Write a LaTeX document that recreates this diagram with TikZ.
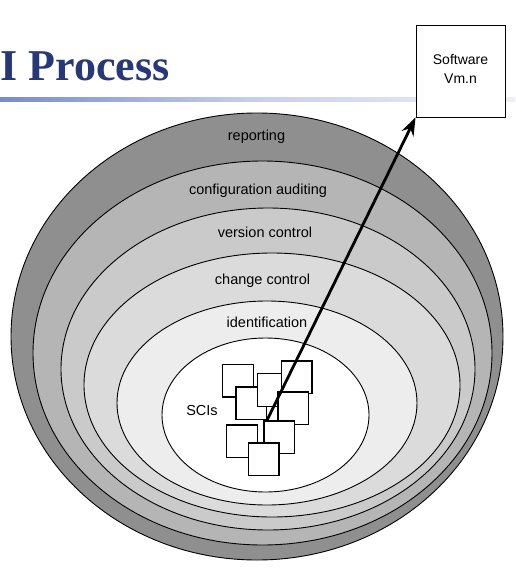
\documentclass[tikz,border=0pt]{standalone}
\usepackage{fontspec}
\setmainfont{Liberation Sans}
\newfontfamily\titlefont{Liberation Serif}
\usetikzlibrary{arrows.meta}
\definecolor{ringA}{RGB}{143,143,143}
\definecolor{ringB}{RGB}{181,181,181}
\definecolor{ringC}{RGB}{202,202,202}
\definecolor{ringD}{RGB}{219,219,219}
\definecolor{ringE}{RGB}{237,237,237}
\definecolor{titleblue}{RGB}{38,56,120}
\definecolor{barL}{RGB}{120,140,200}
\definecolor{barM}{RGB}{200,208,232}
\definecolor{barR}{RGB}{236,239,248}
\begin{document}
\begin{tikzpicture}[x=1pt,y=-1pt,
  ring/.style={draw=black, line width=0.9pt},
  ringlabel/.style={anchor=base, inner sep=0pt, font=\fontsize{14.5}{17}\selectfont},
  sci/.style={draw=black, fill=white, line width=1.2pt, minimum width=30.5pt, minimum height=32.5pt, inner sep=0pt},
  arrowline/.style={line width=2.8pt, -{Stealth[length=18pt, width=13pt]}},
  swbox/.style={draw=black, fill=white, line width=0.9pt, minimum width=89pt, minimum height=92pt, inner sep=0pt, align=center, text depth=5pt, font=\fontsize{14}{19}\selectfont}
]
\useasboundingbox (0,0) rectangle (515,570);
% title bar
\shade[left color=barL, right color=barR, middle color=barM] (0,97) rectangle (515,101);
\node[anchor=base west, inner sep=0pt, text=titleblue, font=\titlefont\bfseries\fontsize{44}{50}\selectfont] (title) at (0.5,80) {I Process};
% rings
\draw[ring, fill=ringA] (257,336.5) ellipse [x radius=246pt, y radius=223.5pt];
\draw[ring, fill=ringB] (262.5,353) ellipse [x radius=229.5pt, y radius=192pt];
\draw[ring, fill=ringC] (268,369) ellipse [x radius=207pt, y radius=161pt];
\draw[ring, fill=ringD] (272,385) ellipse [x radius=188pt, y radius=132pt];
\draw[ring, fill=ringE] (267,403) ellipse [x radius=150pt, y radius=102pt];
\draw[ring, fill=white] (265.5,415) ellipse [x radius=103.5pt, y radius=77pt];
% ring labels
\node[ringlabel] (rep) at (256.5,140) {reporting};
\node[ringlabel] (aud) at (258,194) {configuration auditing};
\node[ringlabel] (ver) at (265,237.5) {version control};
\node[ringlabel] (chg) at (262.5,284) {change control};
\node[ringlabel] (idf) at (267,327) {identification};
\node[ringlabel] (scis) at (202,415) {SCIs};
% SCI squares
\node[sci] (s1) at (238,380.7) {};
\node[sci] (s4) at (251.2,403.3) {};
\node[sci] (s2) at (272.8,390) {};
\node[sci] (s3) at (296.8,377.3) {};
\node[sci] (s5) at (293.3,408.3) {};
\node[sci] (s6) at (279.3,437.3) {};
\node[sci] (s7) at (242,441.2) {};
\node[sci] (s8) at (263.8,459.2) {};
% software box
\node[swbox] (sw) at (460.5,71) {Software\\Vm.n};
% arrow
\draw[arrowline] (s4.south east) -- (sw.south west);
\end{tikzpicture}
\end{document}
